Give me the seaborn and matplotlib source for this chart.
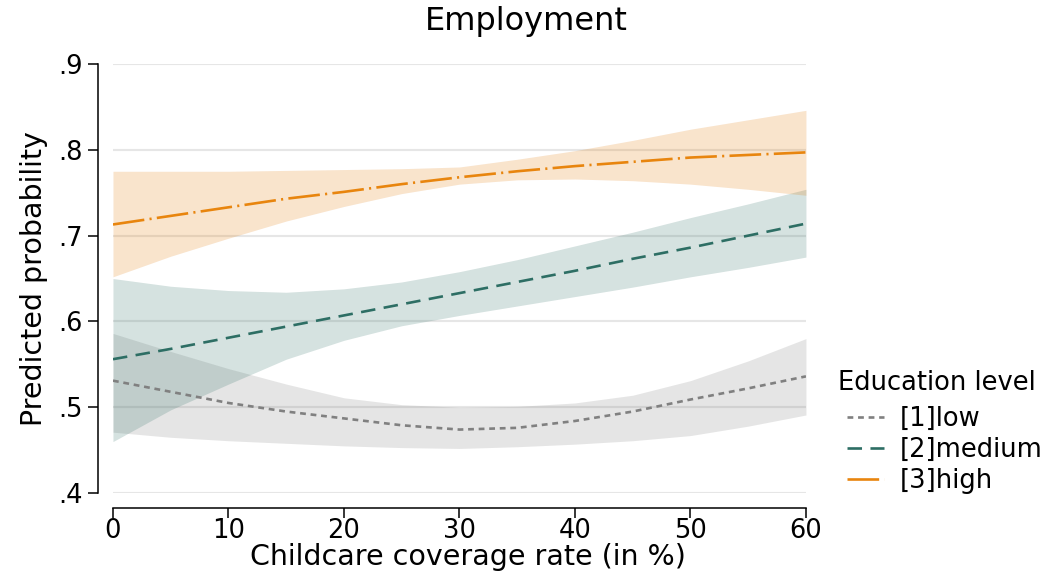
import numpy as np
import pandas as pd
import matplotlib
matplotlib.use("Agg")
import matplotlib.pyplot as plt
from matplotlib.lines import Line2D
import seaborn as sns

coverage = [0, 5, 10, 15, 20, 25, 30, 35, 40, 45, 50, 55, 60]
levels = ["[1]low", "[2]medium", "[3]high"]

low_mean = [.531, .518, .505, .495, .487, .479, .474, .476, .484, .495, .509, .522, .536]
low_upper = [.586, .565, .545, .527, .511, .503, .500, .501, .505, .514, .531, .554, .580]
low_lower = [.471, .465, .461, .458, .455, .453, .452, .454, .457, .461, .467, .478, .491]

med_mean = [.556, .568, .581, .594, .607, .620, .633, .646, .659, .673, .686, .700, .714]
med_upper = [.650, .641, .636, .634, .638, .646, .658, .672, .688, .704, .721, .737, .754]
med_lower = [.460, .497, .527, .556, .578, .595, .607, .618, .629, .640, .652, .663, .675]

high_mean = [.713, .723, .733, .743, .751, .760, .768, .775, .781, .786, .791, .794, .797]
high_upper = [.775, .775, .775, .776, .777, .778, .780, .789, .799, .811, .824, .835, .846]
high_lower = [.652, .676, .697, .717, .734, .749, .760, .765, .766, .764, .760, .754, .747]

yticks = [.4, .5, .6, .7, .8, .9]
ytick_labels = [".4", ".5", ".6", ".7", ".8", ".9"]
xticks = [0, 10, 20, 30, 40, 50, 60]

line_colors = {"[1]low": "#808080", "[2]medium": "#2d6e64", "[3]high": "#e8850e"}
band_colors = {"[1]low": "#7d7d7d", "[2]medium": "#2d6e64", "[3]high": "#e17800"}
dash_styles = {"[1]low": (2.2, 1.8), "[2]medium": (5.5, 3.2), "[3]high": (12, 2, 0.8, 2)}

means = {"[1]low": low_mean, "[2]medium": med_mean, "[3]high": high_mean}
uppers = {"[1]low": low_upper, "[2]medium": med_upper, "[3]high": high_upper}
lowers = {"[1]low": low_lower, "[2]medium": med_lower, "[3]high": high_lower}

df = pd.concat([
    pd.DataFrame({"coverage": coverage, "prob": means[l], "Education level": l})
    for l in levels
], ignore_index=True)

sns.set_style("white")
plt.rcParams["font.family"] = ["DejaVu Sans"]
plt.rcParams["text.color"] = "black"
plt.rcParams["axes.labelcolor"] = "black"
plt.rcParams["xtick.color"] = "black"
plt.rcParams["ytick.color"] = "black"

LW = 1.9

fig = plt.figure(figsize=(10.46, 5.74), dpi=100)
ax = fig.add_axes([0.108, 0.141, 0.6625, 0.7475])

for y in yticks:
    ax.axhline(y, color="#e6e6e6", lw=1.5, zorder=0)

for l in levels:
    ax.fill_between(coverage, lowers[l], uppers[l], color=band_colors[l],
                    alpha=0.2, lw=0, zorder=1)

sns.lineplot(data=df, x="coverage", y="prob", hue="Education level",
             style="Education level", palette=line_colors, dashes=dash_styles,
             hue_order=levels, style_order=levels, lw=LW, ax=ax, zorder=3,
             legend=False)

ax.set_xlim(0, 60)
ax.set_ylim(0.4, 0.9)
ax.set_xticks(xticks)
ax.set_yticks(yticks)
ax.set_yticklabels(ytick_labels)
ax.tick_params(axis="both", labelsize=18.5, length=7, width=1.1, color="black",
               direction="out", left=True, bottom=True, labelcolor="black")
ax.tick_params(axis="y", pad=4)
ax.tick_params(axis="x", pad=0)

for s in ["top", "right"]:
    ax.spines[s].set_visible(False)
ax.spines["left"].set_position(("outward", 11))
ax.spines["bottom"].set_position(("outward", 11))
ax.spines["left"].set_bounds(0.4, 0.9)
ax.spines["bottom"].set_bounds(0, 60)
for s in ["left", "bottom"]:
    ax.spines[s].set_color("black")
    ax.spines[s].set_linewidth(1.1)

ax.set_xlabel("Childcare coverage rate (in %)", fontsize=20.5)
ax.xaxis.set_label_coords(0.512, -0.116)
ax.set_ylabel("Predicted probability", fontsize=20.5, labelpad=7)
fig.suptitle("Employment", fontsize=23, x=0.503, y=0.99, va="top")

handles = [Line2D([], [], color=line_colors[l], lw=LW, dashes=dash_styles[l])
           for l in levels]
fig.text(838 / 1046, 1 - 383 / 574, "Education level", fontsize=18.5,
         ha="left", va="center")
leg = ax.legend(handles, levels, fontsize=18.5, frameon=False,
                loc="upper left", bbox_to_anchor=(1.059, 0.202),
                handlelength=1.45, handletextpad=0.6,
                labelspacing=0.18, borderaxespad=0, borderpad=0)

fig.savefig("out.png", dpi=100)
